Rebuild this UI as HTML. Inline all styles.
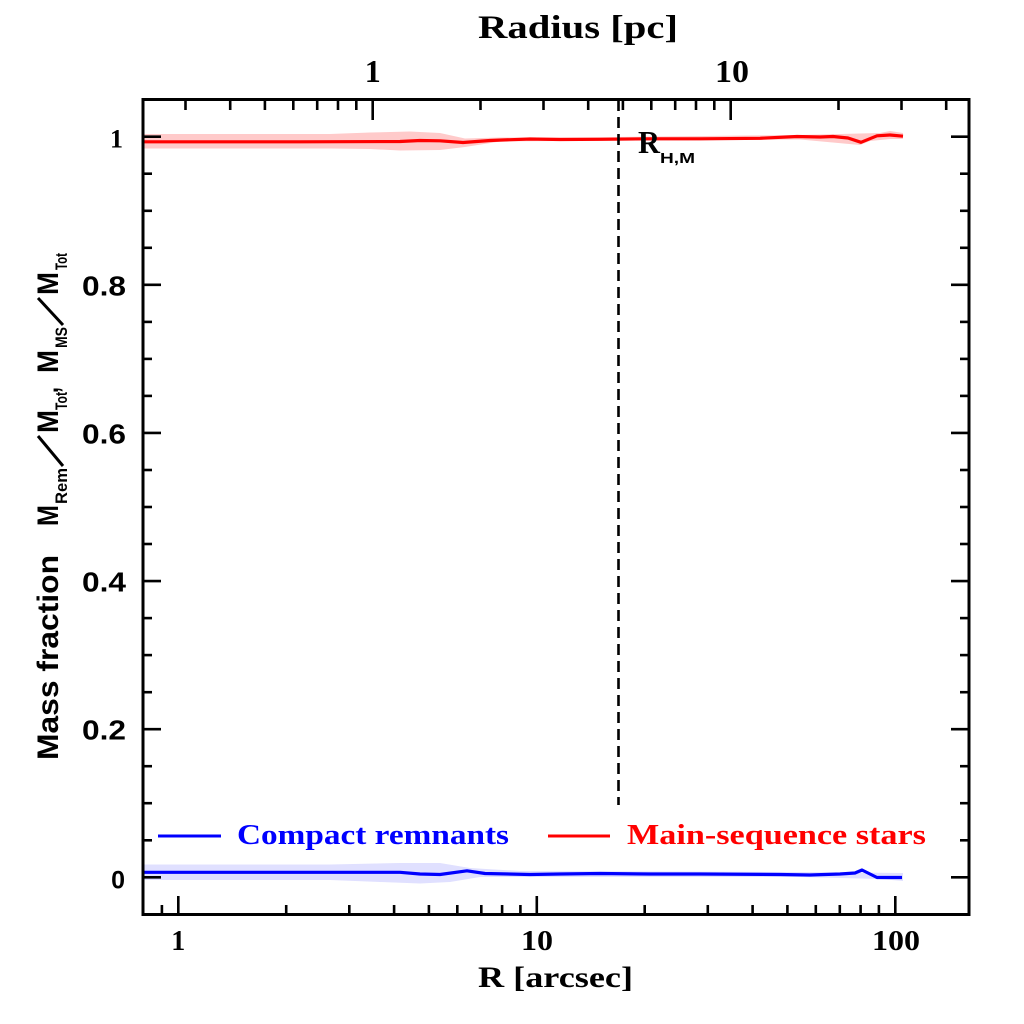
<!DOCTYPE html>
<html>
<head>
<meta charset="utf-8">
<style>
html,body{margin:0;padding:0;background:#fff;}
svg{display:block;}
.sf{font-family:"Liberation Serif",serif;font-weight:bold;}
.ss{font-family:"Liberation Sans",sans-serif;font-weight:bold;}
</style>
</head>
<body>
<svg width="1024" height="1024" viewBox="0 0 1024 1024" xmlns="http://www.w3.org/2000/svg">
<rect width="1024" height="1024" fill="#fff"/>

<!-- shaded bands -->
<polygon fill="#ffcaca" points="143,134 330,134 370,132.5 410,131.5 440,133 465,138.5 500,137.5 560,137.5 800,135 880,133 890,131 903,133 903,139 890,139 870,141 860,145 800,139.5 560,141 500,141.5 465,147 440,150 400,150.5 370,149 330,148.5 143,148.5"/>
<polygon fill="#e0e0ff" points="143,864.5 330,864.5 400,863 440,863 470,868 520,871 800,872 903,873 903,881 880,879 800,877 520,877 480,877 450,882 420,883.5 380,882 330,880 143,880"/>

<!-- series lines -->
<polyline fill="none" stroke="#ff0000" stroke-width="3.2" stroke-linejoin="round" points="143,141.8 300,141.8 400,141.5 420,140.5 440,140.8 463,142.5 490,140.5 530,139 560,139.5 600,139.3 650,138.8 700,138.8 760,138.3 797,136.5 820,137 833,136.5 848,138 861,142.3 877,135.8 890,135 903,136.2"/>
<polyline fill="none" stroke="#0000ff" stroke-width="3.2" stroke-linejoin="round" points="143,872.3 400,872.3 420,874 440,874.5 467,870.8 485,873.5 530,874.5 560,874 600,873.5 650,874 700,874 780,874.5 810,875 840,874 855,873 862,870 877,877.5 902,877.5"/>

<!-- dashed R_HM line -->
<line x1="618.5" y1="100" x2="618.5" y2="805" stroke="#000" stroke-width="2.6" stroke-dasharray="11 6"/>

<!-- frame -->
<rect x="143" y="99.5" width="826" height="815" fill="none" stroke="#000" stroke-width="3"/>

<g stroke="#000" stroke-width="2.6">
<!-- bottom ticks -->
<line x1="161.9" y1="914" x2="161.9" y2="905"/>
<line x1="178.3" y1="914" x2="178.3" y2="896"/>
<line x1="286.2" y1="914" x2="286.2" y2="905"/>
<line x1="349.3" y1="914" x2="349.3" y2="905"/>
<line x1="394.1" y1="914" x2="394.1" y2="905"/>
<line x1="428.9" y1="914" x2="428.9" y2="905"/>
<line x1="457.3" y1="914" x2="457.3" y2="905"/>
<line x1="481.3" y1="914" x2="481.3" y2="905"/>
<line x1="502.1" y1="914" x2="502.1" y2="905"/>
<line x1="520.4" y1="914" x2="520.4" y2="905"/>
<line x1="536.8" y1="914" x2="536.8" y2="896"/>
<line x1="644.7" y1="914" x2="644.7" y2="905"/>
<line x1="707.8" y1="914" x2="707.8" y2="905"/>
<line x1="752.6" y1="914" x2="752.6" y2="905"/>
<line x1="787.4" y1="914" x2="787.4" y2="905"/>
<line x1="815.8" y1="914" x2="815.8" y2="905"/>
<line x1="839.8" y1="914" x2="839.8" y2="905"/>
<line x1="860.6" y1="914" x2="860.6" y2="905"/>
<line x1="878.9" y1="914" x2="878.9" y2="905"/>
<line x1="895.3" y1="914" x2="895.3" y2="896"/>
<!-- top ticks -->
<line x1="185.5" y1="100" x2="185.5" y2="110"/>
<line x1="230.2" y1="100" x2="230.2" y2="110"/>
<line x1="264.9" y1="100" x2="264.9" y2="110"/>
<line x1="293.3" y1="100" x2="293.3" y2="110"/>
<line x1="317.2" y1="100" x2="317.2" y2="110"/>
<line x1="338.0" y1="100" x2="338.0" y2="110"/>
<line x1="356.3" y1="100" x2="356.3" y2="110"/>
<line x1="372.7" y1="100" x2="372.7" y2="120"/>
<line x1="480.5" y1="100" x2="480.5" y2="110"/>
<line x1="543.5" y1="100" x2="543.5" y2="110"/>
<line x1="588.2" y1="100" x2="588.2" y2="110"/>
<line x1="622.9" y1="100" x2="622.9" y2="110"/>
<line x1="651.3" y1="100" x2="651.3" y2="110"/>
<line x1="675.2" y1="100" x2="675.2" y2="110"/>
<line x1="696.0" y1="100" x2="696.0" y2="110"/>
<line x1="714.3" y1="100" x2="714.3" y2="110"/>
<line x1="730.7" y1="100" x2="730.7" y2="120"/>
<line x1="838.5" y1="100" x2="838.5" y2="110"/>
<line x1="901.5" y1="100" x2="901.5" y2="110"/>
<line x1="946.2" y1="100" x2="946.2" y2="110"/>
<!-- left ticks -->
<line x1="143" y1="877.3" x2="161" y2="877.3"/>
<line x1="143" y1="840.3" x2="152" y2="840.3"/>
<line x1="143" y1="803.2" x2="152" y2="803.2"/>
<line x1="143" y1="766.2" x2="152" y2="766.2"/>
<line x1="143" y1="729.2" x2="161" y2="729.2"/>
<line x1="143" y1="692.2" x2="152" y2="692.2"/>
<line x1="143" y1="655.1" x2="152" y2="655.1"/>
<line x1="143" y1="618.1" x2="152" y2="618.1"/>
<line x1="143" y1="581.1" x2="161" y2="581.1"/>
<line x1="143" y1="544.0" x2="152" y2="544.0"/>
<line x1="143" y1="507.0" x2="152" y2="507.0"/>
<line x1="143" y1="470.0" x2="152" y2="470.0"/>
<line x1="143" y1="432.9" x2="161" y2="432.9"/>
<line x1="143" y1="395.9" x2="152" y2="395.9"/>
<line x1="143" y1="358.9" x2="152" y2="358.9"/>
<line x1="143" y1="321.9" x2="152" y2="321.9"/>
<line x1="143" y1="284.8" x2="161" y2="284.8"/>
<line x1="143" y1="247.8" x2="152" y2="247.8"/>
<line x1="143" y1="210.8" x2="152" y2="210.8"/>
<line x1="143" y1="173.7" x2="152" y2="173.7"/>
<line x1="143" y1="136.7" x2="161" y2="136.7"/>
<!-- right ticks -->
<line x1="969" y1="877.3" x2="951" y2="877.3"/>
<line x1="969" y1="840.3" x2="960" y2="840.3"/>
<line x1="969" y1="803.2" x2="960" y2="803.2"/>
<line x1="969" y1="766.2" x2="960" y2="766.2"/>
<line x1="969" y1="729.2" x2="951" y2="729.2"/>
<line x1="969" y1="692.2" x2="960" y2="692.2"/>
<line x1="969" y1="655.1" x2="960" y2="655.1"/>
<line x1="969" y1="618.1" x2="960" y2="618.1"/>
<line x1="969" y1="581.1" x2="951" y2="581.1"/>
<line x1="969" y1="544.0" x2="960" y2="544.0"/>
<line x1="969" y1="507.0" x2="960" y2="507.0"/>
<line x1="969" y1="470.0" x2="960" y2="470.0"/>
<line x1="969" y1="432.9" x2="951" y2="432.9"/>
<line x1="969" y1="395.9" x2="960" y2="395.9"/>
<line x1="969" y1="358.9" x2="960" y2="358.9"/>
<line x1="969" y1="321.9" x2="960" y2="321.9"/>
<line x1="969" y1="284.8" x2="951" y2="284.8"/>
<line x1="969" y1="247.8" x2="960" y2="247.8"/>
<line x1="969" y1="210.8" x2="960" y2="210.8"/>
<line x1="969" y1="173.7" x2="960" y2="173.7"/>
<line x1="969" y1="136.7" x2="951" y2="136.7"/>
</g>

<!-- bottom tick labels -->
<g class="sf" font-size="28" fill="#000" text-anchor="middle">
<text x="178.3" y="950">1</text>
<text x="537" y="950" textLength="32" lengthAdjust="spacingAndGlyphs">10</text>
<text x="896" y="950" textLength="48" lengthAdjust="spacingAndGlyphs">100</text>
</g>
<!-- top tick labels -->
<g class="sf" font-size="32" fill="#000" text-anchor="middle">
<text x="372.7" y="82">1</text>
<text x="732" y="82" textLength="34" lengthAdjust="spacingAndGlyphs">10</text>
</g>
<!-- left tick labels -->
<g class="ss" font-size="28" fill="#000" text-anchor="end">
<text x="125" y="888.5" font-size="25">0</text>
<text x="126" y="739.5" textLength="44" lengthAdjust="spacingAndGlyphs">0.2</text>
<text x="126" y="591.5" textLength="44" lengthAdjust="spacingAndGlyphs">0.4</text>
<text x="126" y="443.5" textLength="44" lengthAdjust="spacingAndGlyphs">0.6</text>
<text x="126" y="295.5" textLength="44" lengthAdjust="spacingAndGlyphs">0.8</text>
</g>
<text class="sf" x="123" y="147.5" font-size="26" text-anchor="end">1</text>

<!-- axis titles -->
<text class="sf" x="478" y="38" font-size="33" textLength="200" lengthAdjust="spacingAndGlyphs">Radius [pc]</text>
<text class="sf" x="478" y="987" font-size="30" textLength="155" lengthAdjust="spacingAndGlyphs">R [arcsec]</text>

<!-- y label rotated -->
<g transform="translate(58,0) rotate(-90)" class="ss" fill="#000">
<text x="-760" y="0" font-size="30" textLength="205" lengthAdjust="spacingAndGlyphs">Mass fraction</text>
<text x="-526" y="0" font-size="30" textLength="21" lengthAdjust="spacingAndGlyphs">M</text>
<text x="-504" y="9" font-size="17" textLength="36" lengthAdjust="spacingAndGlyphs">Rem</text>
<text x="-433" y="0" font-size="30" textLength="23" lengthAdjust="spacingAndGlyphs">M</text>
<text x="-410" y="9" font-size="17" textLength="18" lengthAdjust="spacingAndGlyphs">Tot</text>
<text x="-393" y="0" font-size="30" textLength="6" lengthAdjust="spacingAndGlyphs">,</text>
<text x="-373" y="0" font-size="30" textLength="23" lengthAdjust="spacingAndGlyphs">M</text>
<text x="-348" y="9" font-size="17" textLength="21" lengthAdjust="spacingAndGlyphs">MS</text>
<text x="-295" y="0" font-size="30" textLength="23" lengthAdjust="spacingAndGlyphs">M</text>
<text x="-270" y="9" font-size="17" textLength="17" lengthAdjust="spacingAndGlyphs">Tot</text>
</g>
<!-- slashes drawn as lines -->
<line x1="63" y1="466" x2="38" y2="436" stroke="#000" stroke-width="3"/>
<line x1="63" y1="325" x2="38" y2="298" stroke="#000" stroke-width="3"/>

<!-- R_HM annotation -->
<text x="638" y="153" font-family="Liberation Serif, serif" font-weight="bold" font-size="32" fill="#000" textLength="22" lengthAdjust="spacingAndGlyphs">R</text>
<text class="ss" x="660" y="163" font-size="15" textLength="35" lengthAdjust="spacingAndGlyphs">H,M</text>

<!-- legend -->
<line x1="158" y1="836" x2="221" y2="836" stroke="#0000ff" stroke-width="3"/>
<text class="sf" x="237" y="844" font-size="28" fill="#0000ff" textLength="272" lengthAdjust="spacingAndGlyphs">Compact remnants</text>
<line x1="548" y1="836" x2="610" y2="836" stroke="#ff0000" stroke-width="3"/>
<text class="sf" x="627" y="844" font-size="28" fill="#ff0000" textLength="299" lengthAdjust="spacingAndGlyphs">Main-sequence stars</text>
</svg>
</body>
</html>
